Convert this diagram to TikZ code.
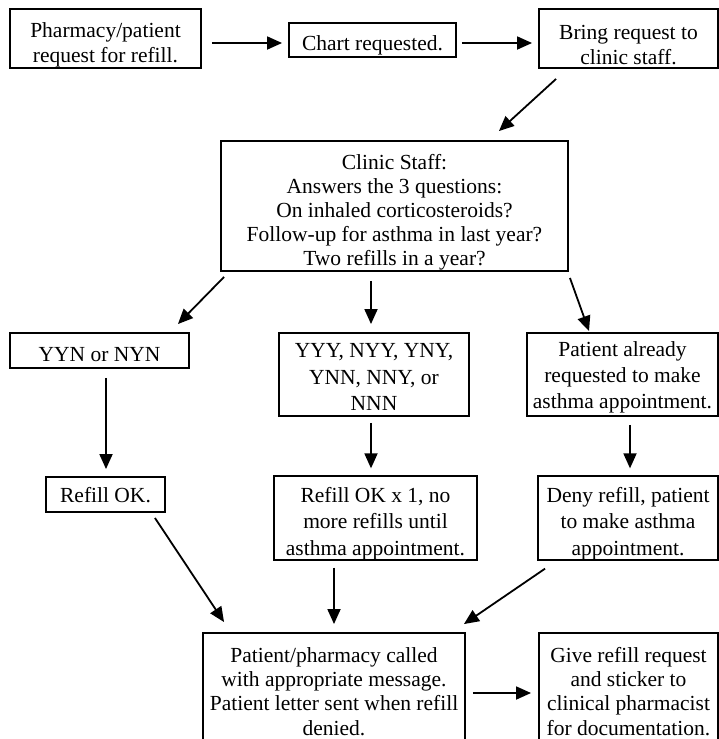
\documentclass[tikz,border=0pt]{standalone}
\usepackage{fontspec}
\setmainfont{Liberation Serif}
\usetikzlibrary{arrows.meta,calc}
\newcommand\toppad[1]{\rule{0pt}{#1pt}}
\begin{document}
\begin{tikzpicture}[x=1pt,y=-1pt,
  box/.style={draw,line width=1.9pt,rectangle,align=center,inner sep=0pt,
    font=\fontsize{21.5}{#1}\selectfont},
  box/.default=24.3,
  arr/.style={line width=1.8pt,-{Triangle[length=15pt,width=13pt]}}]
\useasboundingbox (0,0) rectangle (719,739);

\node[box=25,minimum width=191pt,minimum height=59pt] (n1) at (105.5,38.5) {\toppad{27.8}Pharmacy/patient\\request for refill.};
\node[box,minimum width=167pt,minimum height=34pt] (n2) at (372.5,40) {\toppad{24.8}Chart requested.};
\node[box=25,minimum width=179pt,minimum height=59pt] (n3) at (628.5,38.5) {\toppad{27.8}Bring request to\\clinic staff.};
\node[box=24,minimum width=347pt,minimum height=130pt] (clinic) at (394.5,206) {\toppad{27.8}Clinic Staff:\\Answers the 3 questions:\\On inhaled corticosteroids?\\Follow-up for asthma in last year?\\Two refills in a year?};
\node[box,minimum width=179pt,minimum height=35pt] (yyn) at (99.5,350.5) {\toppad{22.2}YYN or NYN};
\node[box=26.5,minimum width=190pt,minimum height=83pt] (yyy) at (374,374.5) {\toppad{19.2}YYY, NYY, YNY,\\YNN, NNY, or\\NNN};
\node[box=26,minimum width=191pt,minimum height=83pt] (pat) at (622.5,374.5) {\toppad{19.8}Patient already\\requested to make\\asthma appointment.};
\node[box,minimum width=119pt,minimum height=35pt] (ok) at (105.5,494.5) {\toppad{16.8}Refill OK.};
\node[box=26.5,minimum width=203pt,minimum height=82pt] (ok1) at (375.5,518) {\toppad{25.8}Refill OK x 1, no\\more refills until\\asthma appointment.};
\node[box=26.5,minimum width=180pt,minimum height=82pt] (deny) at (628,518) {\toppad{25.8}Deny refill, patient\\to make asthma\\appointment.};
\node[box=24.3,minimum width=262pt,minimum height=114pt] (called) at (334,690) {\toppad{17.8}Patient/pharmacy called\\with appropriate message.\\Patient letter sent when refill\\denied.};
\node[box=24.3,minimum width=179pt,minimum height=114pt] (give) at (628.5,690) {\toppad{17.8}Give refill request\\and sticker to\\clinical pharmacist\\for documentation.};

\draw[arr] ($(n1.east)+(10,4.5)$) -- ($(n2.west)+(-6,3)$);
\draw[arr] ($(n2.east)+(5,3)$) -- ($(n3.west)+(-6,4.5)$);
\draw[arr] ($(n3.south west)+(18,10)$) -- ($(clinic.north east)+(-70,-9)$);
\draw[arr] ($(clinic.south west)+(4,5)$) -- ($(yyn.north east)+(-12,-8)$);
\draw[arr] ($(clinic.south)+(-23.5,9)$) -- ($(yyy.north)+(-3,-8)$);
\draw[arr] ($(clinic.south east)+(1,6)$) -- ($(pat.north)+(-33.5,-1)$);
\draw[arr] ($(yyn.south)+(6.5,9)$) -- ($(ok.north)+(0.5,-7)$);
\draw[arr] ($(yyy.south)+(-3,6)$) -- ($(ok1.north)+(-4.5,-7)$);
\draw[arr] ($(pat.south)+(7.5,8)$) -- ($(deny.north)+(2,-7)$);
\draw[arr] ($(ok.south east)+(-11,5)$) -- ($(called.north west)+(22,-10)$);
\draw[arr] ($(ok1.south)+(-41.5,7)$) -- ($(called.north)+(0,-8)$);
\draw[arr] ($(deny.south west)+(8,8)$) -- ($(called.north east)+(-2,-8)$);
\draw[arr] ($(called.east)+(7,3)$) -- ($(give.west)+(-7,3)$);
\end{tikzpicture}
\end{document}
